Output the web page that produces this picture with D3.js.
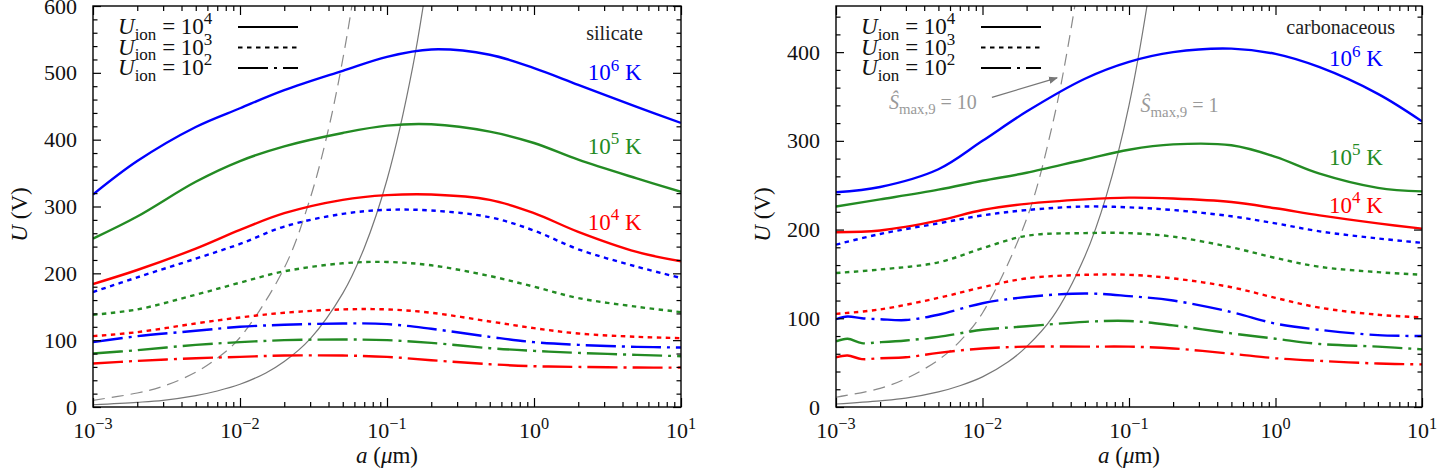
<!DOCTYPE html>
<html>
<head>
<meta charset="utf-8">
<script src="https://cdn.jsdelivr.net/npm/d3@7"></script>
<style>
body { margin: 0; background: #fff; }
</style>
</head>
<body>
<div id="chart"></div>
<script>
// grain radius a (um) sample points
const aVals  = [1e-3, 2e-3, 5e-3, 1e-2, 2e-2, 5e-2, 0.1, 0.2, 0.5, 1, 2, 5, 10];
const aValsW = [1e-3, 1.2e-3, 1.5e-3, 2e-3, 3e-3, 5e-3, 1e-2, 2e-2, 5e-2, 0.1, 0.2, 0.5, 1, 2, 5, 10];

// silicate, U (V)
const silT6_ion4 = [318, 368, 419, 447, 474, 503, 524, 535, 527, 507, 482, 449, 425];
const silT5_ion4 = [252, 285, 337, 368, 390, 410, 421, 423, 412, 395, 370, 342, 322];
const silT4_ion4 = [184, 205, 237, 265, 290, 310, 317, 318, 310, 290, 262, 232, 218];
const silT6_ion3 = [172, 194, 222, 244, 270, 289, 295, 294, 284, 264, 236, 210, 193];
const silT5_ion3 = [138, 146, 168, 186, 203, 215, 217, 212, 196, 180, 163, 150, 142];
const silT4_ion3 = [106, 112, 125, 134, 141, 146, 146, 141, 128, 118, 110, 105, 103];
const silT6_ion2 = [97, 106, 114, 120, 123, 125, 124, 117, 105, 97, 93, 90, 89];
const silT5_ion2 = [80, 85, 93, 97, 100, 101, 100, 96, 88, 84, 81, 78, 76];
const silT4_ion2 = [65, 69, 73, 75, 77, 77, 75, 70, 64, 61, 60, 59, 59];

// carbonaceous, U (V)
const carT6_ion4 = [242, 248, 268, 300, 333, 370, 389, 400, 404, 398, 383, 353, 322];
const carT5_ion4 = [226, 234, 245, 255, 264, 279, 290, 296, 295, 282, 263, 247, 243];
const carT4_ion4 = [197, 199, 210, 222, 229, 234, 236, 235, 231, 224, 216, 207, 201];
const carT6_ion3 = [183, 195, 207, 216, 222, 226, 225, 222, 215, 207, 198, 190, 185];
const carT5_ion3 = [151, 155, 163, 179, 193, 196, 196, 192, 180, 168, 158, 152, 149];
const carT4_ion3 = [105, 110, 123, 135, 145, 149, 149, 145, 135, 123, 112, 104, 101];
const carT6_ion2 = [99, 102, 100, 99, 98, 104, 117, 124, 128, 125, 120, 107, 94, 87, 81, 80];
const carT5_ion2 = [74, 77, 72, 73, 75, 79, 87, 91, 96, 97, 92, 83, 77, 71, 68, 65];
const carT4_ion2 = [56, 58, 54, 55, 56, 61, 66, 68, 68, 68, 66, 60, 55, 52, 49, 48];

// grey S_max,9 curves
const aGraySolid = [1e-3, 2e-3, 3e-3, 5e-3, 7e-3, 1e-2, 1.5e-2, 2e-2, 3e-2, 5e-2, 7e-2, 0.1, 0.15, 0.2];
const silGraySolid = [3.4, 7, 10, 17, 24, 34, 51, 68, 102, 170, 238, 340, 510, 680];
const carGraySolid = [3.4, 7, 10, 17, 24, 34, 51, 68, 101, 170, 238, 340, 510, 680];
const aGrayDash = [1e-3, 2e-3, 3e-3, 5e-3, 7e-3, 1e-2, 2e-2, 3e-2, 4e-2, 5e-2, 6e-2, 7e-2];
const silGrayDash = [10, 21, 31, 52, 73, 104, 208, 312, 416, 520, 624, 728];
const carGrayDash = [11, 21, 32, 53, 74, 106, 212, 318, 424, 530, 636, 742];

const xMajor = [1e-3, 1e-2, 1e-1, 1, 10];
const xMajorExp = ["−3", "−2", "−1", "0", "1"];
const tempLabels = ["6", "5", "4"];
const ionLabels = ["4", "3", "2"];

const BLUE = "#0000ff", GREEN = "#238b23", RED = "#ff0000", GREY = "#8a8a8a";
const DOT = "4.5,4.5", DASHDOT = "30,6,3,6";
const FONT = "Liberation Serif";

const W = 1444, H = 468;
const svg = d3.select("#chart").append("svg")
    .attr("width", W)
    .attr("height", H)
    .attr("font-family", FONT);

// text made of pieces; sup / sub pieces are shifted and shrunk
function richText(t, parts, fs) {
    let shift = 0;
    t.attr("font-size", fs).attr("font-family", FONT);
    parts.forEach(function (p) {
        let target = p.sup ? -0.42 * fs : (p.sub ? 0.24 * fs : 0);
        let s = t.append("tspan").text(p.t).attr("dy", target - shift);
        if (p.i) s.attr("font-style", "italic");
        if (p.sup || p.sub) s.attr("font-size", 0.74 * fs);
        shift = target;
    });
    return t;
}

function drawPanel(opt) {
    const g = svg.append("g").attr("transform", `translate(${opt.left},${opt.top})`);
    const width = opt.width, height = opt.height;

    const x = d3.scaleLog().domain([1e-3, 10]).range([0, width]);
    const y = d3.scaleLinear().domain([0, opt.yMax]).range([height, 0]);

    g.append("clipPath").attr("id", opt.id + "-clip")
        .append("rect").attr("width", width).attr("height", height);

    const plot = g.append("g").attr("clip-path", `url(#${opt.id}-clip)`);

    const line = d3.line()
        .x(d => x(d[0]))
        .y(d => y(d[1]))
        .curve(d3.curveCatmullRom.alpha(0.5));

    // grey curves
    plot.append("path")
        .attr("d", line(d3.zip(aGrayDash, opt.grayDash)))
        .attr("fill", "none").attr("stroke", GREY).attr("stroke-width", 1.2)
        .attr("stroke-dasharray", "12,7");
    plot.append("path")
        .attr("d", line(d3.zip(aGraySolid, opt.graySolid)))
        .attr("fill", "none").attr("stroke", "#777").attr("stroke-width", 1.2);

    opt.series.forEach(function (s) {
        plot.append("path")
            .attr("d", line(d3.zip(s.a, s.u)))
            .attr("fill", "none")
            .attr("stroke", s.color)
            .attr("stroke-width", 2.4)
            .attr("stroke-dasharray", s.dash || null);
    });

    // axes, ticks inward on all four sides
    const xMinor = [];
    for (let e = -3; e < 1; e++) {
        for (let m = 2; m <= 9; m++) xMinor.push(m * Math.pow(10, e));
    }
    const yMajor = d3.range(0, opt.yMax + 1, 100);
    const yMinor = d3.range(0, opt.yMax + 1, 20).filter(v => v % 100 !== 0);

    const axes = [
        [d3.axisBottom(x).tickValues(xMajor).tickSize(-9), `translate(0,${height})`],
        [d3.axisBottom(x).tickValues(xMinor).tickSize(-5), `translate(0,${height})`],
        [d3.axisTop(x).tickValues(xMajor).tickSize(-9), null],
        [d3.axisTop(x).tickValues(xMinor).tickSize(-5), null],
        [d3.axisLeft(y).tickValues(yMinor).tickSize(-4.5), null],
        [d3.axisRight(y).tickValues(yMajor).tickSize(-8), `translate(${width},0)`],
        [d3.axisRight(y).tickValues(yMinor).tickSize(-4.5), `translate(${width},0)`]
    ];
    axes.forEach(function (ax) {
        let a = g.append("g").call(ax[0].tickFormat(""));
        if (ax[1]) a.attr("transform", ax[1]);
        a.select(".domain").remove();
        a.selectAll("text").remove();
        a.selectAll("line").attr("stroke", "#000").attr("stroke-width", 1.2);
    });

    const yAx = g.append("g")
        .call(d3.axisLeft(y).tickValues(yMajor).tickSize(-8).tickPadding(16));
    yAx.attr("font-family", FONT).attr("font-size", 22);
    yAx.select(".domain").remove();
    yAx.selectAll("line").attr("stroke", "#000").attr("stroke-width", 1.2);
    yAx.selectAll("text").attr("fill", "#111");

    // x tick labels 10^n
    xMajor.forEach(function (v, i) {
        let t = g.append("text")
            .attr("x", x(v)).attr("y", height + 31)
            .attr("text-anchor", "middle")
            .attr("fill", "#111");
        richText(t, [{t: "10"}, {t: xMajorExp[i], sup: true}], 22);
    });

    g.append("rect")
        .attr("width", width).attr("height", height)
        .attr("fill", "none").attr("stroke", "#000").attr("stroke-width", 1.4);

    // axis titles
    let yl = g.append("text")
        .attr("transform", `translate(-66,${height / 2 + 8}) rotate(-90)`)
        .attr("text-anchor", "middle")
        .attr("fill", "#111");
    richText(yl, [{t: "U", i: true}, {t: " (V)"}], 23);

    let xl = g.append("text")
        .attr("x", width / 2).attr("y", height + 56)
        .attr("text-anchor", "middle")
        .attr("fill", "#111");
    richText(xl, [{t: "a", i: true}, {t: " ("}, {t: "μ", i: true}, {t: "m)"}], 23);

    // legend for U_ion line styles
    const dashes = [null, DOT, DASHDOT];
    ionLabels.forEach(function (lab, i) {
        let ly = 21 + i * 20.5;
        let t = g.append("text")
            .attr("x", 25).attr("y", ly + 7)
            .attr("fill", "#111");
        richText(t, [{t: "U", i: true}, {t: "ion", sub: true}, {t: " = 10"}, {t: lab, sup: true}], 23);
        g.append("line")
            .attr("x1", 145).attr("x2", 205)
            .attr("y1", ly).attr("y2", ly)
            .attr("stroke", "#000").attr("stroke-width", 2.2)
            .attr("stroke-dasharray", dashes[i]);
    });

    // material name and temperature labels
    let mt = g.append("text")
        .attr("x", x(opt.matPos[0])).attr("y", y(opt.matPos[1]))
        .attr("dy", "0.35em")
        .attr("text-anchor", "end")
        .attr("fill", "#222");
    richText(mt, [{t: opt.material}], 20);

    const tColors = [BLUE, GREEN, RED];
    opt.tempPos.forEach(function (p, i) {
        let t = g.append("text")
            .attr("x", x(p[0])).attr("y", y(p[1]) + 8)
            .attr("text-anchor", "end")
            .attr("fill", tColors[i]);
        richText(t, [{t: "10"}, {t: tempLabels[i], sup: true}, {t: " K"}], 23);
    });

    if (opt.notes) {
        const defs = svg.append("defs");
        defs.append("marker")
            .attr("id", opt.id + "-arrow")
            .attr("viewBox", "0 0 10 10")
            .attr("refX", 9).attr("refY", 5)
            .attr("markerWidth", 9).attr("markerHeight", 9)
            .attr("markerUnits", "userSpaceOnUse")
            .attr("orient", "auto")
            .append("path").attr("d", "M0,1L10,5L0,9z").attr("fill", "#777");

        opt.notes.forEach(function (n) {
            let t = g.append("text")
                .attr("x", x(n.pos[0])).attr("y", y(n.pos[1]) + 6)
                .attr("fill", "#999");
            richText(t, [{t: "Ŝ", i: true}, {t: "max,9", sub: true}, {t: " = " + n.val}], 20);
            if (n.arrow) {
                g.append("line")
                    .attr("x1", x(n.arrow[0])).attr("y1", y(n.arrow[1]))
                    .attr("x2", x(n.arrow[2])).attr("y2", y(n.arrow[3]))
                    .attr("stroke", "#777").attr("stroke-width", 1.2)
                    .attr("marker-end", `url(#${opt.id}-arrow)`);
            }
        });
    }
}

drawPanel({
    id: "sil", left: 93, top: 6, width: 588, height: 401, yMax: 600,
    material: "silicate", matPos: [5.5, 549],
    tempPos: [[5.4, 501], [5.4, 391], [5.4, 277]],
    graySolid: silGraySolid, grayDash: silGrayDash,
    series: [
        {a: aVals, u: silT6_ion4, color: BLUE},
        {a: aVals, u: silT5_ion4, color: GREEN},
        {a: aVals, u: silT4_ion4, color: RED},
        {a: aVals, u: silT6_ion3, color: BLUE, dash: DOT},
        {a: aVals, u: silT5_ion3, color: GREEN, dash: DOT},
        {a: aVals, u: silT4_ion3, color: RED, dash: DOT},
        {a: aVals, u: silT6_ion2, color: BLUE, dash: DASHDOT},
        {a: aVals, u: silT5_ion2, color: GREEN, dash: DASHDOT},
        {a: aVals, u: silT4_ion2, color: RED, dash: DASHDOT}
    ]
});

drawPanel({
    id: "car", left: 836, top: 6, width: 586, height: 401, yMax: 452,
    material: "carbonaceous", matPos: [6.55, 421],
    tempPos: [[5.4, 393], [5.4, 282], [5.4, 228]],
    graySolid: carGraySolid, grayDash: carGrayDash,
    notes: [
        {val: "10", pos: [0.0023, 343], arrow: [0.0116, 349, 0.0323, 371]},
        {val: "1", pos: [0.12, 339]}
    ],
    series: [
        {a: aVals, u: carT6_ion4, color: BLUE},
        {a: aVals, u: carT5_ion4, color: GREEN},
        {a: aVals, u: carT4_ion4, color: RED},
        {a: aVals, u: carT6_ion3, color: BLUE, dash: DOT},
        {a: aVals, u: carT5_ion3, color: GREEN, dash: DOT},
        {a: aVals, u: carT4_ion3, color: RED, dash: DOT},
        {a: aValsW, u: carT6_ion2, color: BLUE, dash: DASHDOT},
        {a: aValsW, u: carT5_ion2, color: GREEN, dash: DASHDOT},
        {a: aValsW, u: carT4_ion2, color: RED, dash: DASHDOT}
    ]
});
</script>
</body>
</html>
